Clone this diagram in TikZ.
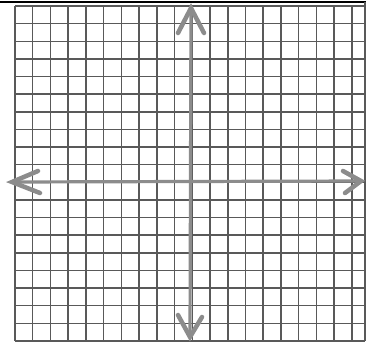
\documentclass[tikz,border=0pt]{standalone}
\begin{document}
\begin{tikzpicture}[x=1pt,y=-1pt,
  gridline/.style={black!65,line width=1.5pt},
  frameline/.style={black,line width=1.4pt},
  axisline/.style={black!45,line width=3.2pt},
  chevron/.style={black!45,line width=4.5pt,line join=miter,line cap=round}]
\useasboundingbox (0,0) rectangle (366,341);
\fill[white] (0,0) rectangle (366,341);
% grid
\foreach \i in {0,...,19} {
  \draw[gridline] ({15+17.73*\i},6) -- ({15+17.73*\i},341);
}
\foreach \j in {0,...,19} {
  \draw[gridline] (15,{6+17.63*\j}) -- (365,{6+17.63*\j});
}
\draw[frameline] (0,2) -- (366,2);
\draw[gridline] (365,2) -- (365,341);
% axes
\coordinate (ytop) at (191,8);
\coordinate (ybot) at (190,337);
\coordinate (xleft) at (12,182);
\coordinate (xright) at (361,181);
\draw[axisline] (ytop) -- (ybot);
\draw[axisline] (xleft) -- (xright);
% arrowheads
\draw[chevron] (178,33) -- (ytop) -- (204,33);
\draw[chevron] (178,315) -- (ybot) -- (202,317);
\draw[chevron] (38,171) -- (xleft) -- (40,193);
\draw[chevron] (343,171) -- (xright) -- (345,193);
\end{tikzpicture}
\end{document}
